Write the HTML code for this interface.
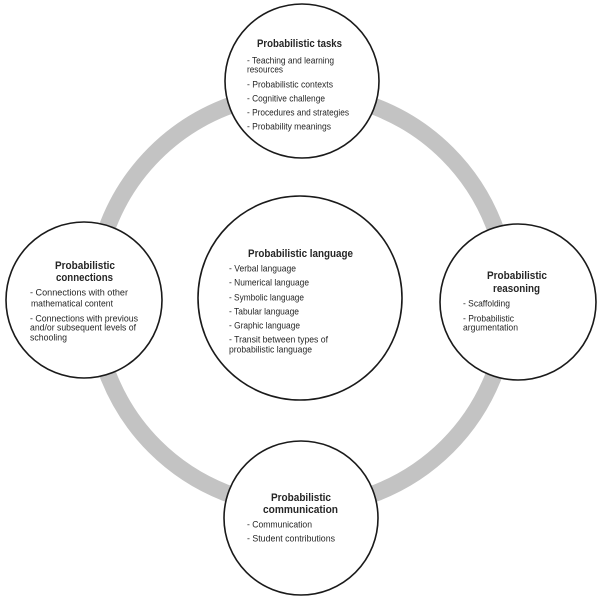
<!DOCTYPE html>
<html>
<head>
<meta charset="utf-8">
<style>
html,body{margin:0;padding:0;background:#fff;}
svg{display:block;}
text{font-family:"Liberation Sans",sans-serif;fill:#262626;}
.t{font-weight:bold;font-size:11px;}
.i{font-size:9px;}
</style>
</head>
<body>
<svg width="601" height="602" viewBox="0 0 601 602" xmlns="http://www.w3.org/2000/svg">
<rect width="601" height="602" fill="#fff"/>
<!-- gray ring -->
<circle cx="301" cy="300" r="207" fill="none" stroke="#c3c3c3" stroke-width="17"/>

<!-- circles -->
<circle cx="302" cy="81" r="77" fill="#fff" stroke="#1a1a1a" stroke-width="1.6"/>
<circle cx="300" cy="298" r="102" fill="#fff" stroke="#1a1a1a" stroke-width="1.6"/>
<circle cx="84" cy="300" r="78" fill="#fff" stroke="#1a1a1a" stroke-width="1.6"/>
<circle cx="518" cy="302" r="78" fill="#fff" stroke="#1a1a1a" stroke-width="1.6"/>
<circle cx="301" cy="518" r="77" fill="#fff" stroke="#1a1a1a" stroke-width="1.6"/>

<!-- top -->
<text class="t" x="257" y="47" textLength="85" lengthAdjust="spacingAndGlyphs">Probabilistic tasks</text>
<text class="i" x="247" y="63.5" textLength="87" lengthAdjust="spacingAndGlyphs">- Teaching and learning</text>
<text class="i" x="247" y="72.5" textLength="36" lengthAdjust="spacingAndGlyphs">resources</text>
<text class="i" x="247" y="87.5" textLength="86" lengthAdjust="spacingAndGlyphs">- Probabilistic contexts</text>
<text class="i" x="247" y="101.5" textLength="78" lengthAdjust="spacingAndGlyphs">- Cognitive challenge</text>
<text class="i" x="247" y="115.5" textLength="102" lengthAdjust="spacingAndGlyphs">- Procedures and strategies</text>
<text class="i" x="247" y="129.5" textLength="84" lengthAdjust="spacingAndGlyphs">- Probability meanings</text>

<!-- center -->
<text class="t" x="248" y="257" textLength="105" lengthAdjust="spacingAndGlyphs">Probabilistic language</text>
<text class="i" x="229" y="271.5" textLength="67" lengthAdjust="spacingAndGlyphs">- Verbal language</text>
<text class="i" x="229" y="285.5" textLength="80" lengthAdjust="spacingAndGlyphs">- Numerical language</text>
<text class="i" x="229" y="300.5" textLength="75" lengthAdjust="spacingAndGlyphs">- Symbolic language</text>
<text class="i" x="229" y="314.5" textLength="70" lengthAdjust="spacingAndGlyphs">- Tabular language</text>
<text class="i" x="229" y="328.5" textLength="71" lengthAdjust="spacingAndGlyphs">- Graphic language</text>
<text class="i" x="229" y="342.5" textLength="99" lengthAdjust="spacingAndGlyphs">- Transit between types of</text>
<text class="i" x="229" y="352.5" textLength="83" lengthAdjust="spacingAndGlyphs">probabilistic language</text>

<!-- left -->
<text class="t" x="55" y="269" textLength="60" lengthAdjust="spacingAndGlyphs">Probabilistic</text>
<text class="t" x="56" y="281" textLength="57" lengthAdjust="spacingAndGlyphs">connections</text>
<text class="i" x="30" y="295.5" textLength="98" lengthAdjust="spacingAndGlyphs">- Connections with other</text>
<text class="i" x="31" y="306.5" textLength="82" lengthAdjust="spacingAndGlyphs">mathematical content</text>
<text class="i" x="30" y="321.5" textLength="108" lengthAdjust="spacingAndGlyphs">- Connections with previous</text>
<text class="i" x="30" y="330.5" textLength="106" lengthAdjust="spacingAndGlyphs">and/or subsequent levels of</text>
<text class="i" x="30" y="340.5" textLength="37" lengthAdjust="spacingAndGlyphs">schooling</text>

<!-- right -->
<text class="t" x="487" y="279" textLength="60" lengthAdjust="spacingAndGlyphs">Probabilistic</text>
<text class="t" x="493" y="292" textLength="47" lengthAdjust="spacingAndGlyphs">reasoning</text>
<text class="i" x="463" y="306.5" textLength="47" lengthAdjust="spacingAndGlyphs">- Scaffolding</text>
<text class="i" x="463" y="321.5" textLength="51" lengthAdjust="spacingAndGlyphs">- Probabilistic</text>
<text class="i" x="463" y="330.5" textLength="55" lengthAdjust="spacingAndGlyphs">argumentation</text>

<!-- bottom -->
<text class="t" x="271" y="501" textLength="60" lengthAdjust="spacingAndGlyphs">Probabilistic</text>
<text class="t" x="263" y="513" textLength="75" lengthAdjust="spacingAndGlyphs">communication</text>
<text class="i" x="247" y="527.5" textLength="65" lengthAdjust="spacingAndGlyphs">- Communication</text>
<text class="i" x="247" y="541.5" textLength="88" lengthAdjust="spacingAndGlyphs">- Student contributions</text>
</svg>
</body>
</html>
